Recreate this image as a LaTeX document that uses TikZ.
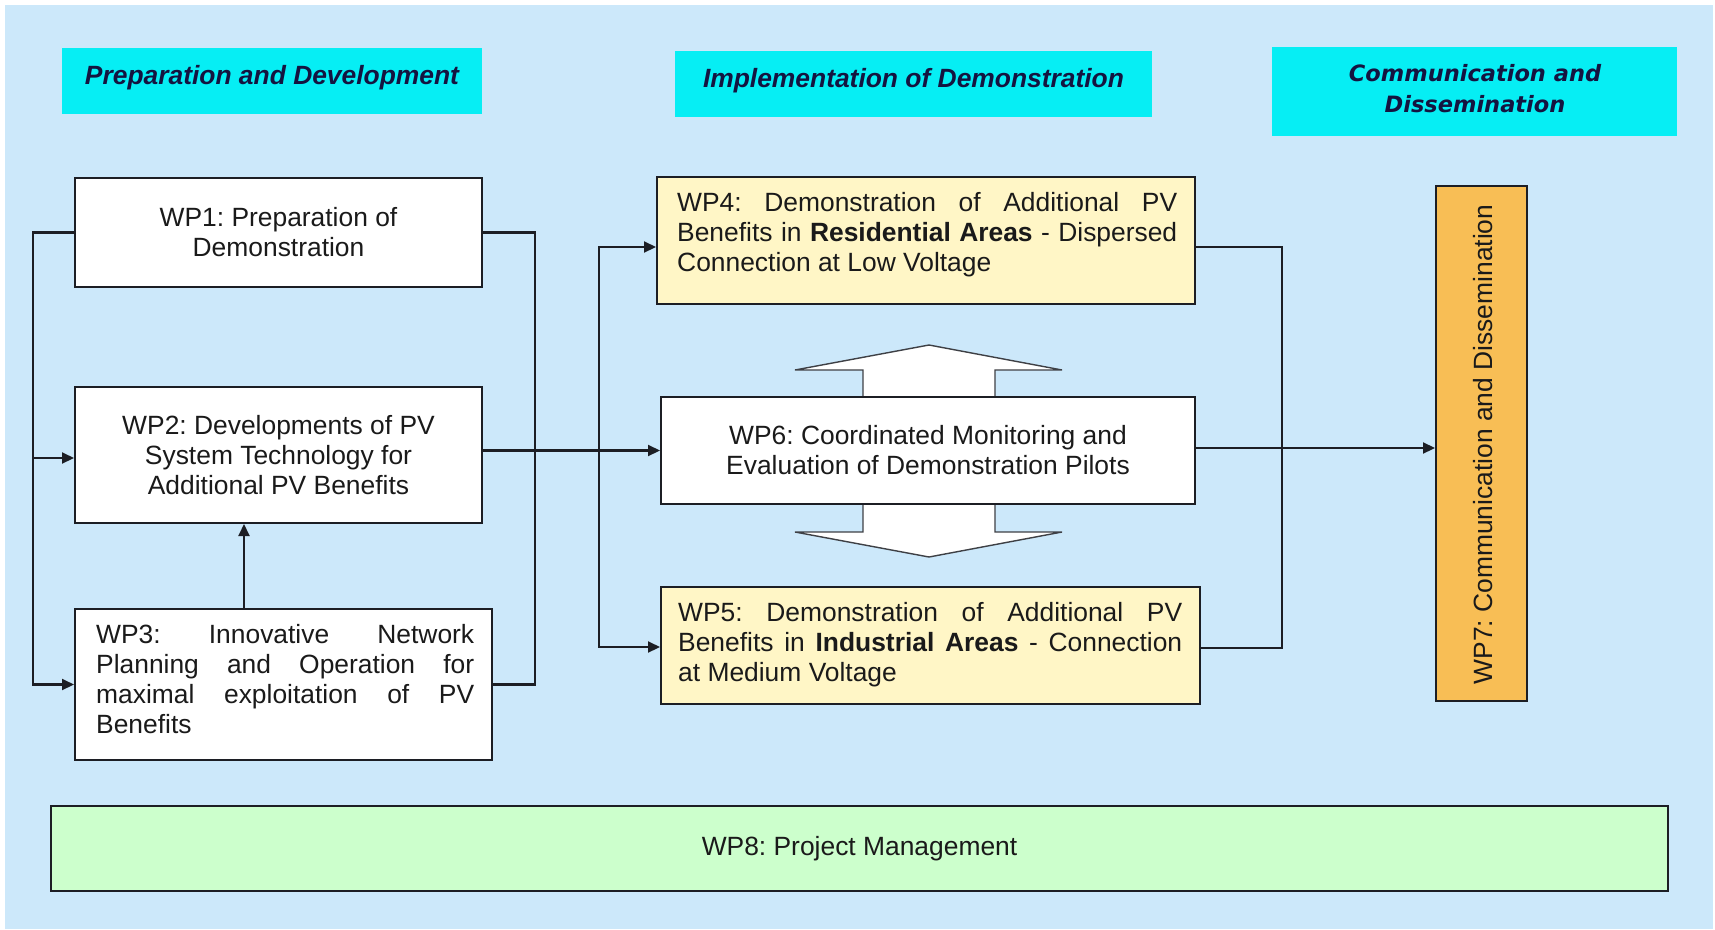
\documentclass[tikz,border=0pt]{standalone}
\usepackage{fontspec}
\setmainfont{Liberation Sans}
\newfontfamily\widesans{DejaVu Sans}
\usetikzlibrary{arrows.meta}
\frenchspacing
\definecolor{bgc}{HTML}{CCE8FA}
\definecolor{hdrc}{HTML}{06EEF4}
\definecolor{hdrtxt}{HTML}{141440}
\definecolor{linec}{HTML}{1C1E24}
\definecolor{txtc}{HTML}{1A1A1A}
\definecolor{yellowc}{HTML}{FFF6C6}
\definecolor{orangec}{HTML}{F8BE55}
\definecolor{greenc}{HTML}{CCFFCC}
\begin{document}
\frenchspacing
\begin{tikzpicture}[x=1pt,y=-1pt,
  body/.style={font=\fontsize{26.4}{30}\selectfont, text=txtc},
  hdr/.style={fill=hdrc, inner sep=0pt, font=\fontsize{26.4}{30}\selectfont\bfseries\itshape, text=hdrtxt, align=center},
  wpbox/.style={draw=linec, line width=2pt, fill=white, inner sep=0pt, body, align=center},
  conn/.style={draw=linec, line width=2.1pt},
  arr/.style={conn, -{Triangle[length=12pt,width=11pt]}},
  darr/.style={conn, {Triangle[length=12pt,width=11pt]}-{Triangle[length=12pt,width=11pt]}},
  txtblock/.style={body, inner sep=0pt, anchor=north west, align=left}
]
\useasboundingbox (0,0) rectangle (1715,929);
\fill[bgc] (5,5) rectangle (1713,929);

% headers
\node[hdr, minimum width=420pt, minimum height=66pt] (h1) at (272,81) {};
\node[hdr, anchor=center] (h1t) at (272,78) {Preparation and Development};
\node[hdr, minimum width=477pt, minimum height=66pt] (h2) at (913.5,84) {};
\node[hdr, anchor=center] (h2t) at (913.5,81) {Implementation of Demonstration};
\node[hdr, minimum width=405pt, minimum height=89pt] (h3) at (1474.5,91.5) {};
\node[hdr, anchor=center, font=\widesans\fontsize{22.5}{31}\selectfont\bfseries\itshape] (h3t) at (1475,89) {Communication and\\Dissemination};

% double block arrow (behind WP6)
\draw[line width=1.4pt, draw=linec!85, fill=white] (929,345) -- (1062,370) -- (995,370) -- (995,532) -- (1062,532) -- (929,557) -- (795,532) -- (863,532) -- (863,370) -- (795,370) -- cycle;

% WP boxes
\node[wpbox, minimum width=407pt, minimum height=109pt] (wp1) at (278.5,232.5) {WP1: Preparation of\\Demonstration};
\node[wpbox, minimum width=407pt, minimum height=136pt] (wp2) at (278.5,455) {WP2: Developments of PV\\System Technology for\\Additional PV Benefits};
\node[wpbox, minimum width=417pt, minimum height=151pt] (wp3) at (283.5,684.5) {};
\node[txtblock] (wp3t) at (96,624) {\makebox[378pt][s]{WP3: Innovative Network}\\\makebox[378pt][s]{Planning and Operation for}\\\makebox[378pt][s]{maximal exploitation of PV}\\Benefits};

\node[wpbox, fill=yellowc, minimum width=538pt, minimum height=127pt] (wp4) at (926,240.5) {};
\node[txtblock] (wp4t) at (677,192) {\makebox[500pt][s]{WP4: Demonstration of Additional PV}\\\makebox[500pt][s]{Benefits in \textbf{Residential Areas} - Dispersed}\\Connection at Low Voltage};

\node[wpbox, minimum width=534pt, minimum height=107pt] (wp6) at (928,450.5) {WP6: Coordinated Monitoring and\\Evaluation of Demonstration Pilots};

\node[wpbox, fill=yellowc, minimum width=539pt, minimum height=117pt] (wp5) at (930.5,645.5) {};
\node[txtblock] (wp5t) at (678,602) {\makebox[504pt][s]{WP5: Demonstration of Additional PV}\\\makebox[504pt][s]{Benefits in \textbf{Industrial Areas} - Connection}\\at Medium Voltage};

\node[wpbox, fill=orangec, minimum width=91pt, minimum height=515pt] (wp7) at (1481.5,443.5) {};
\node[body, rotate=90, inner sep=0pt] (wp7t) at (1483,444.5) {WP7: Communication and Dissemination};

\node[wpbox, fill=greenc, minimum width=1617pt, minimum height=85pt] (wp8) at (859.5,848.5) {WP8: Project Management};

% connectors, left side
\draw[arr] (wp1.west) -- ++(-41,0) coordinate (lbus) |- (wp3.west);
\draw[arr] (lbus |- 0,458) -- (wp2.west |- 0,458);
\draw[conn] (wp1.east) -- ++(52,0) coordinate (rbus) |- (wp3.east);
\draw[arr] (wp3.north -| 244,0) -- (wp2.south -| 244,0);
\draw[arr] (wp2.east |- wp6.west) -- (wp6.west);

% middle bus
\coordinate (wp4in) at (wp4.west |- 0,247);
\coordinate (wp5in) at (wp5.west |- 0,647);
\draw[darr] (wp5in) -| (599,247) -- (wp4in);

% right side
\coordinate (wp4out) at (wp4.east |- 0,247);
\coordinate (wp5out) at (wp5.east |- 0,648);
\draw[conn] (wp4out) -| (1282,648) -- (wp5out);
\draw[arr] (wp6.east |- 0,448) -- (wp7.west |- 0,448);
\end{tikzpicture}
\end{document}
